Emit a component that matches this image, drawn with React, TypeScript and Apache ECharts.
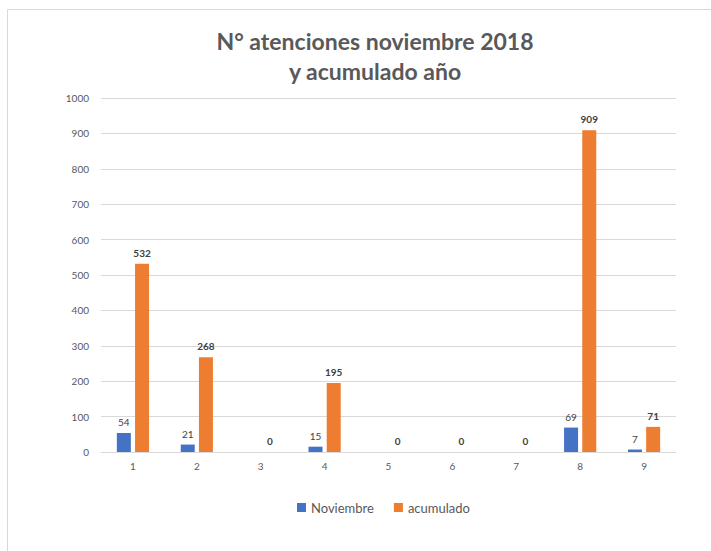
import React, { useEffect, useRef } from "react";
import * as echarts from "echarts";

const categories = ["1", "2", "3", "4", "5", "6", "7", "8", "9"];
const noviembre = [54, 21, null, 15, null, null, null, 69, 7];
const acumulado = [532, 268, 0, 195, 0, 0, 0, 909, 71];
const titleText = "N° atenciones noviembre 2018\ny acumulado año";
const seriesNames = ["Noviembre", "acumulado"];

const FONT = "Lato, 'Open Sans', sans-serif";

export default function App() {
  const ref = useRef<HTMLDivElement>(null);
  useEffect(() => {
    const chart = echarts.init(ref.current!, null, { renderer: "svg" });
    chart.setOption({
      animation: false,
      backgroundColor: "#ffffff",
      textStyle: { fontFamily: FONT },
      title: {
        text: titleText,
        left: 370,
        textAlign: "center",
        top: 21,
        textStyle: {
          fontFamily: FONT,
          fontSize: 23,
          fontWeight: "bold",
          color: "#595959",
          lineHeight: 30,
        },
      },
      graphic: [
        {
          type: "rect",
          shape: { x: 7.5, y: 9.5, width: 720, height: 560 },
          style: { fill: "none", stroke: "#d9d9d9", lineWidth: 1 },
          silent: true,
        },
      ],
      legend: {
        bottom: 32,
        left: 292,
        itemWidth: 9,
        itemHeight: 9,
        itemGap: 20,
        icon: "rect",
        textStyle: { fontFamily: FONT, fontSize: 13, color: "#595959" },
        data: seriesNames,
      },
      grid: { left: 101, right: 35, top: 98, bottom: 99 },
      xAxis: {
        type: "category",
        data: categories,
        axisLine: { lineStyle: { color: "#d9d9d9" } },
        axisTick: { show: false },
        axisLabel: { color: "#595959", fontSize: 10, fontFamily: FONT, margin: 9 },
      },
      yAxis: {
        type: "value",
        min: 0,
        max: 1000,
        interval: 100,
        axisLine: { show: false },
        axisTick: { show: false },
        axisLabel: {
          color: "#595959",
          fontSize: 10,
          fontFamily: FONT,
          margin: 12,
          formatter: (v: number) => String(v),
        },
        splitLine: { lineStyle: { color: "#d9d9d9" } },
      },
      series: [
        {
          name: seriesNames[0],
          type: "bar",
          data: noviembre,
          barWidth: 14,
          barGap: "30%",
          itemStyle: { color: "#4472C4" },
          label: {
            show: true,
            position: "top",
            distance: 6,
            color: "#404040",
            fontSize: 10,
            fontFamily: FONT,
          },
        },
        {
          name: seriesNames[1],
          type: "bar",
          data: acumulado,
          barWidth: 14,
          barGap: "30%",
          itemStyle: { color: "#ED7D31" },
          label: {
            show: true,
            position: "top",
            distance: 6,
            color: "#404040",
            fontWeight: "bold",
            fontSize: 10,
            fontFamily: FONT,
          },
        },
      ],
    });
    return () => chart.dispose();
  }, []);
  return (
    <div
      ref={ref}
      style={{ position: "fixed", left: 0, top: 0, width: 711, height: 551 }}
    />
  );
}
